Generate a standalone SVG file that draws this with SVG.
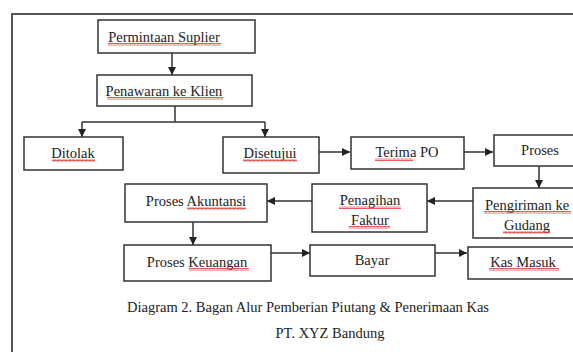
<svg xmlns="http://www.w3.org/2000/svg" width="573" height="352" viewBox="0 0 573 352">
<style>
.box{fill:#fff;stroke:#333;stroke-width:1.5}
.t{font-family:"Liberation Serif","Times New Roman",serif;font-size:14.5px;fill:#222;text-anchor:middle}
.c{fill:none;stroke:#333;stroke-width:1.5}
.sq{fill:url(#wave)}
</style>
<defs>
<marker id="ah" viewBox="0 0 10 10" refX="10" refY="5" markerWidth="8" markerHeight="8" markerUnits="userSpaceOnUse" orient="auto">
<path d="M0,0 L10,5 L0,10 z" fill="#222"/>
</marker>
<pattern id="wave" width="4" height="3" patternUnits="userSpaceOnUse">
<path d="M0,2.5 L1,0.5 L2,2.5 L3,0.5 L4,2.5" fill="none" stroke="#e03030" stroke-width="0.8"/>
</pattern>
</defs>
<rect width="573" height="352" fill="#fff"/>
<path d="M12,352 V14 H573" fill="none" stroke="#555" stroke-width="2"/>

<g id="connectors">
<path class="c" d="M172,53 V75" marker-end="url(#ah)"/>
<path class="c" d="M175,106 V122"/>
<path class="c" d="M82,122 H265"/>
<path class="c" d="M82,122 V137" marker-end="url(#ah)"/>
<path class="c" d="M265,122 V137" marker-end="url(#ah)"/>
<path class="c" d="M319,152 H350" marker-end="url(#ah)"/>
<path class="c" d="M464,152 H493" marker-end="url(#ah)"/>
<path class="c" d="M539,166 V188" marker-end="url(#ah)"/>
<path class="c" d="M473,201 H427" marker-end="url(#ah)"/>
<path class="c" d="M312,201 H267" marker-end="url(#ah)"/>
<path class="c" d="M193,222 V245" marker-end="url(#ah)"/>
<path class="c" d="M271,253 H310" marker-end="url(#ah)"/>
<path class="c" d="M435,253 H467" marker-end="url(#ah)"/>
</g>

<g id="n1"><rect class="box" x="98" y="20" width="157" height="33"/><text class="t" x="164" y="42">Permintaan Suplier</text>
<rect class="sq" x="108" y="43" width="113" height="3"/></g>
<g id="n2"><rect class="box" x="97" y="75" width="155" height="31"/><text class="t" x="164" y="96">Penawaran ke Klien</text>
<rect class="sq" x="107" y="97" width="116" height="3"/></g>
<g id="n3"><rect class="box" x="24" y="137" width="99" height="33"/><text class="t" x="73" y="158">Ditolak</text>
<rect class="sq" x="52" y="159" width="43" height="3"/></g>
<g id="n4"><rect class="box" x="223" y="137" width="96" height="36"/><text class="t" x="270" y="158">Disetujui</text>
<rect class="sq" x="243" y="159" width="54" height="3"/></g>
<g id="n5"><rect class="box" x="351" y="137" width="113" height="32"/><text class="t" x="407" y="157">Terima PO</text>
<rect class="sq" x="375" y="158" width="38" height="3"/></g>
<g id="n6"><rect class="box" x="494" y="135" width="92" height="31"/><text class="t" x="540" y="155">Proses</text></g>
<g id="n7"><rect class="box" x="473" y="188" width="110" height="50"/><text class="t" x="527" y="210">Pengiriman ke</text><text class="t" x="527" y="230">Gudang</text>
<rect class="sq" x="484" y="211" width="87" height="3"/><rect class="sq" x="503" y="231" width="47" height="3"/></g>
<g id="n8"><rect class="box" x="312" y="184" width="115" height="48"/><text class="t" x="370" y="205">Penagihan</text><text class="t" x="370" y="225">Faktur</text>
<rect class="sq" x="339" y="206" width="62" height="3"/><rect class="sq" x="349" y="226" width="41" height="3"/></g>
<g id="n9"><rect class="box" x="125" y="184" width="142" height="38"/><text class="t" x="196" y="206">Proses Akuntansi</text>
<rect class="sq" x="187" y="207" width="59" height="3"/></g>
<g id="n10"><rect class="box" x="124" y="245" width="147" height="36"/><text class="t" x="197" y="267">Proses Keuangan</text>
<rect class="sq" x="189" y="268" width="60" height="3"/></g>
<g id="n11"><rect class="box" x="310" y="245" width="125" height="31"/><text class="t" x="372" y="265">Bayar</text></g>
<g id="n12"><rect class="box" x="468" y="247" width="112" height="32"/><text class="t" x="523" y="267">Kas Masuk</text>
<rect class="sq" x="489" y="268" width="70" height="3"/></g>

<g id="caption">
<text class="t" x="308" y="312">Diagram 2. Bagan Alur Pemberian Piutang &amp; Penerimaan Kas</text>
<text class="t" x="330" y="338">PT. XYZ Bandung</text>
</g>
</svg>
